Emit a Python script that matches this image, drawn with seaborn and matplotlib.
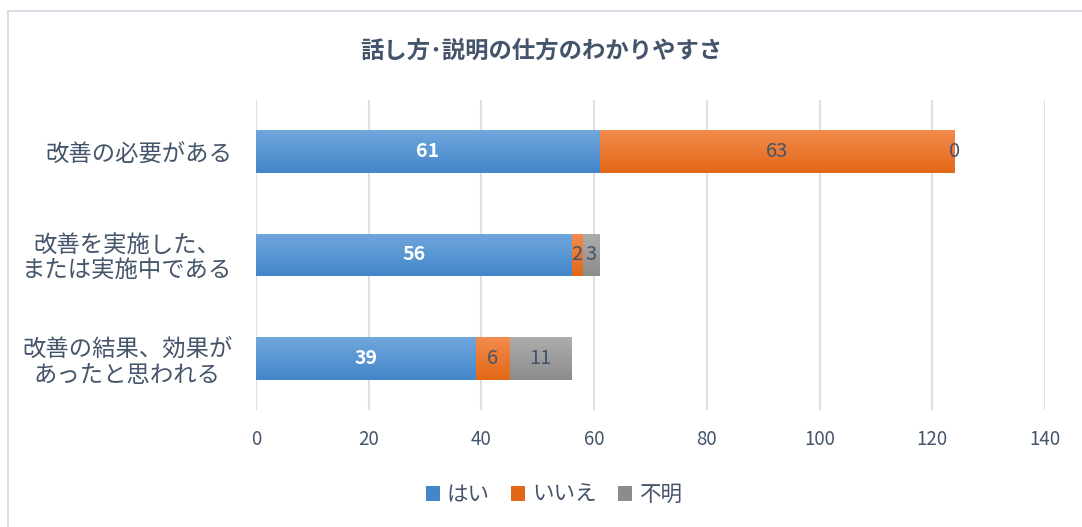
import numpy as np
import pandas as pd
import seaborn as sns
import matplotlib.pyplot as plt
from matplotlib.patches import Patch, Rectangle
from matplotlib.colors import LinearSegmentedColormap

# data
categories = ['改善の必要がある', '改善を実施した、\nまたは実施中である', '改善の結果、効果が\nあったと思われる']
series = ['はい', 'いいえ', '不明']
yes = [61, 56, 39]
no = [63, 2, 6]
unknown = [0, 3, 11]
title = '話し方･説明の仕方のわかりやすさ'

# gradient colours (top, bottom) for each series
grad = {
    'はい': ('#70A7DC', '#4386CA'),
    'いいえ': ('#F38B4D', '#E26817'),
    '不明': ('#ADADAD', '#8C8C8C'),
}
txt = '#44546A'

sns.set_theme(style='white')
plt.rcParams['font.family'] = ['Noto Sans CJK JP', 'DejaVu Sans']

df = pd.DataFrame({'cat': categories, 'はい': yes, 'いいえ': no, '不明': unknown})
df['c1'] = df['はい']
df['c2'] = df['c1'] + df['いいえ']
df['c3'] = df['c2'] + df['不明']

fig = plt.figure(figsize=(10.82, 5.27), dpi=100)
ax = fig.add_axes([256 / 1082, 1 - 410 / 527, (1045 - 256) / 1082, 310 / 527])

# stacked by drawing the cumulative totals back to front
layers = [('c3', '不明'), ('c2', 'いいえ'), ('c1', 'はい')]
for col, name in layers:
    sns.barplot(data=df, x=col, y='cat', orient='h', color=grad[name][1],
                width=0.41, ax=ax, saturation=1, linewidth=0)

# replace the flat fills with top-to-bottom gradients
n = len(categories)
for i, (col, name) in enumerate(layers):
    cmap = LinearSegmentedColormap.from_list(name, [grad[name][0], grad[name][1]])
    for p in ax.patches[i * n:(i + 1) * n]:
        x0, y0 = p.get_x(), p.get_y()
        w, h = p.get_width(), p.get_height()
        if w <= 0:
            continue
        p.set_facecolor('none')
        g = np.linspace(0, 1, 64).reshape(-1, 1)
        im = ax.imshow(g, cmap=cmap, aspect='auto', extent=(x0, x0 + w, y0 + h, y0),
                       origin='upper', zorder=2, interpolation='bilinear')
        im.set_clip_path(p)

ax.set_xlim(0, 140)
ax.set_ylim(2.5, -0.5)
ax.set_xticks(range(0, 141, 20))
ax.set_xlabel('')
ax.set_ylabel('')
ax.grid(axis='x', color='#DCE0E8', linewidth=1.5)
ax.set_axisbelow(True)
for s in ax.spines.values():
    s.set_visible(False)
ax.tick_params(axis='x', length=0, pad=14, labelsize=13.5, colors=txt)
ax.tick_params(axis='y', length=0, pad=17, labelsize=16.8, colors=txt)
for t in ax.get_yticklabels():
    t.set_multialignment('center')
    t.set_linespacing(1.15)

# value labels
for i in range(n):
    ax.text(df['c1'][i] / 2, i, str(yes[i]), ha='center', va='center',
            color='white', fontsize=14, fontweight='bold', zorder=5)
    ax.text(df['c1'][i] + no[i] / 2, i, str(no[i]), ha='center', va='center',
            color=txt, fontsize=14.5, zorder=5)
    ax.text(df['c2'][i] + unknown[i] / 2, i, str(unknown[i]), ha='center', va='center',
            color=txt, fontsize=14.5, zorder=5)

fig.text(0.5, 1 - 51 / 527, title, ha='center', va='center', fontsize=16.8,
         fontweight='bold', color=txt)

handles = [Patch(facecolor=grad[s][1], edgecolor='none', label=s) for s in series]
leg = fig.legend(handles=handles, loc='center', bbox_to_anchor=(0.512, 1 - 495 / 527),
                 ncol=3, frameon=False, fontsize=15.5, handlelength=0.65, handleheight=0.65,
                 handletextpad=0.33, columnspacing=1.0)
for t in leg.get_texts():
    t.set_color(txt)

# chart border
fig.patches.append(Rectangle((8 / 1082, -0.1), 1.2, 1 - 11 / 527 + 0.1,
                             transform=fig.transFigure, fill=False,
                             edgecolor='#D9DEE6', linewidth=1.5))

fig.savefig('out.png', dpi=100)
